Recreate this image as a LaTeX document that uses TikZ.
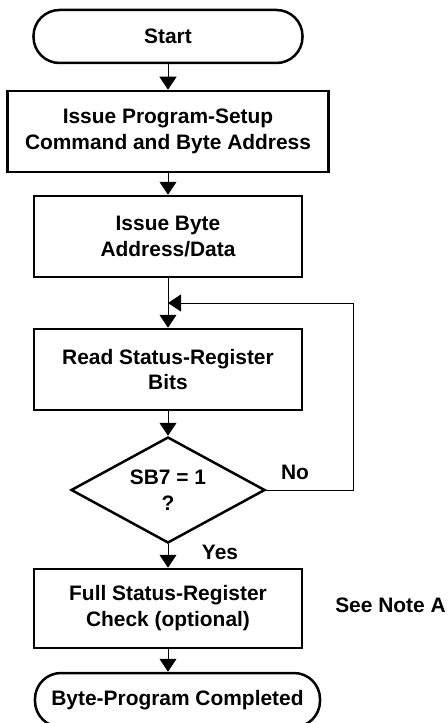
\documentclass[tikz,border=0pt]{standalone}
\usepackage{fontspec}
\setmainfont{Liberation Sans}
\usetikzlibrary{shapes.geometric,arrows.meta}

\begin{document}
\begin{tikzpicture}[x=1bp, y=-1bp,
  every node/.style={font=\fontsize{21}{26}\selectfont\bfseries},
  box/.style={shape=rectangle, draw=black, line width=2.5bp, minimum width=268bp, minimum height=81bp, align=center, inner sep=0pt},
  term/.style={shape=rectangle, draw=black, line width=2.5bp, rounded corners=26bp, minimum height=53bp, align=center},
  decision/.style={shape=diamond, draw=black, line width=2.5bp, shape aspect=1.83, minimum width=194bp, minimum height=106bp, align=center, inner sep=0pt},
  flow/.style={line width=1bp, -{Triangle[width=17bp,length=13bp]}}]
%%%%%%%%%%%%%%%%%%%%%%%%%%%%%%%%%%%%%%%%%%% BOUNDING BOX
\useasboundingbox (0,0) rectangle (448,723);

%%%%%%%%%%%%%%%%%%%%%%%%%%%%%%%%%%%%%%%%%%% elements
\node[term, minimum width=269bp] (start) at (168,36.5) {Start};
\node[box, minimum width=321bp] (setup) at (168,131.5) {Issue Program-Setup\\Command and Byte Address};
\node[box] (data) at (168,236.5) {Issue Byte\\Address/Data};
\node[box] (read) at (168,369.5) {Read Status-Register\\Bits};
\node[decision] (sb7) at (168,490) {SB7 = 1\\?};
\node[box, minimum height=79bp] (full) at (168,608.5) {Full Status-Register\\Check (optional)};
\node[term, minimum width=285bp, minimum height=54bp] (done) at (177.5,700) {Byte-Program Completed};
\coordinate (merge) at (168,303);
\coordinate (corner) at (353,303);

%%%%% labels
\node (no) at (295,472) {No};
\node (yes) at (220,552) {Yes};
\node (note) at (390.5,605) {See Note A};

%%%%% edges
\draw[flow] (start) -- (setup);
\draw[flow] (setup) -- (data);
\draw[flow] (data) -- (read);
\draw[flow] (read) -- (sb7);
\draw[flow] (sb7) -- (full);
\draw[flow] (full.south) -- (full.south |- done.north);
\draw[flow] (sb7.east) -- (corner |- sb7.east) -- (corner) -- (merge);
\end{tikzpicture}
\end{document}
